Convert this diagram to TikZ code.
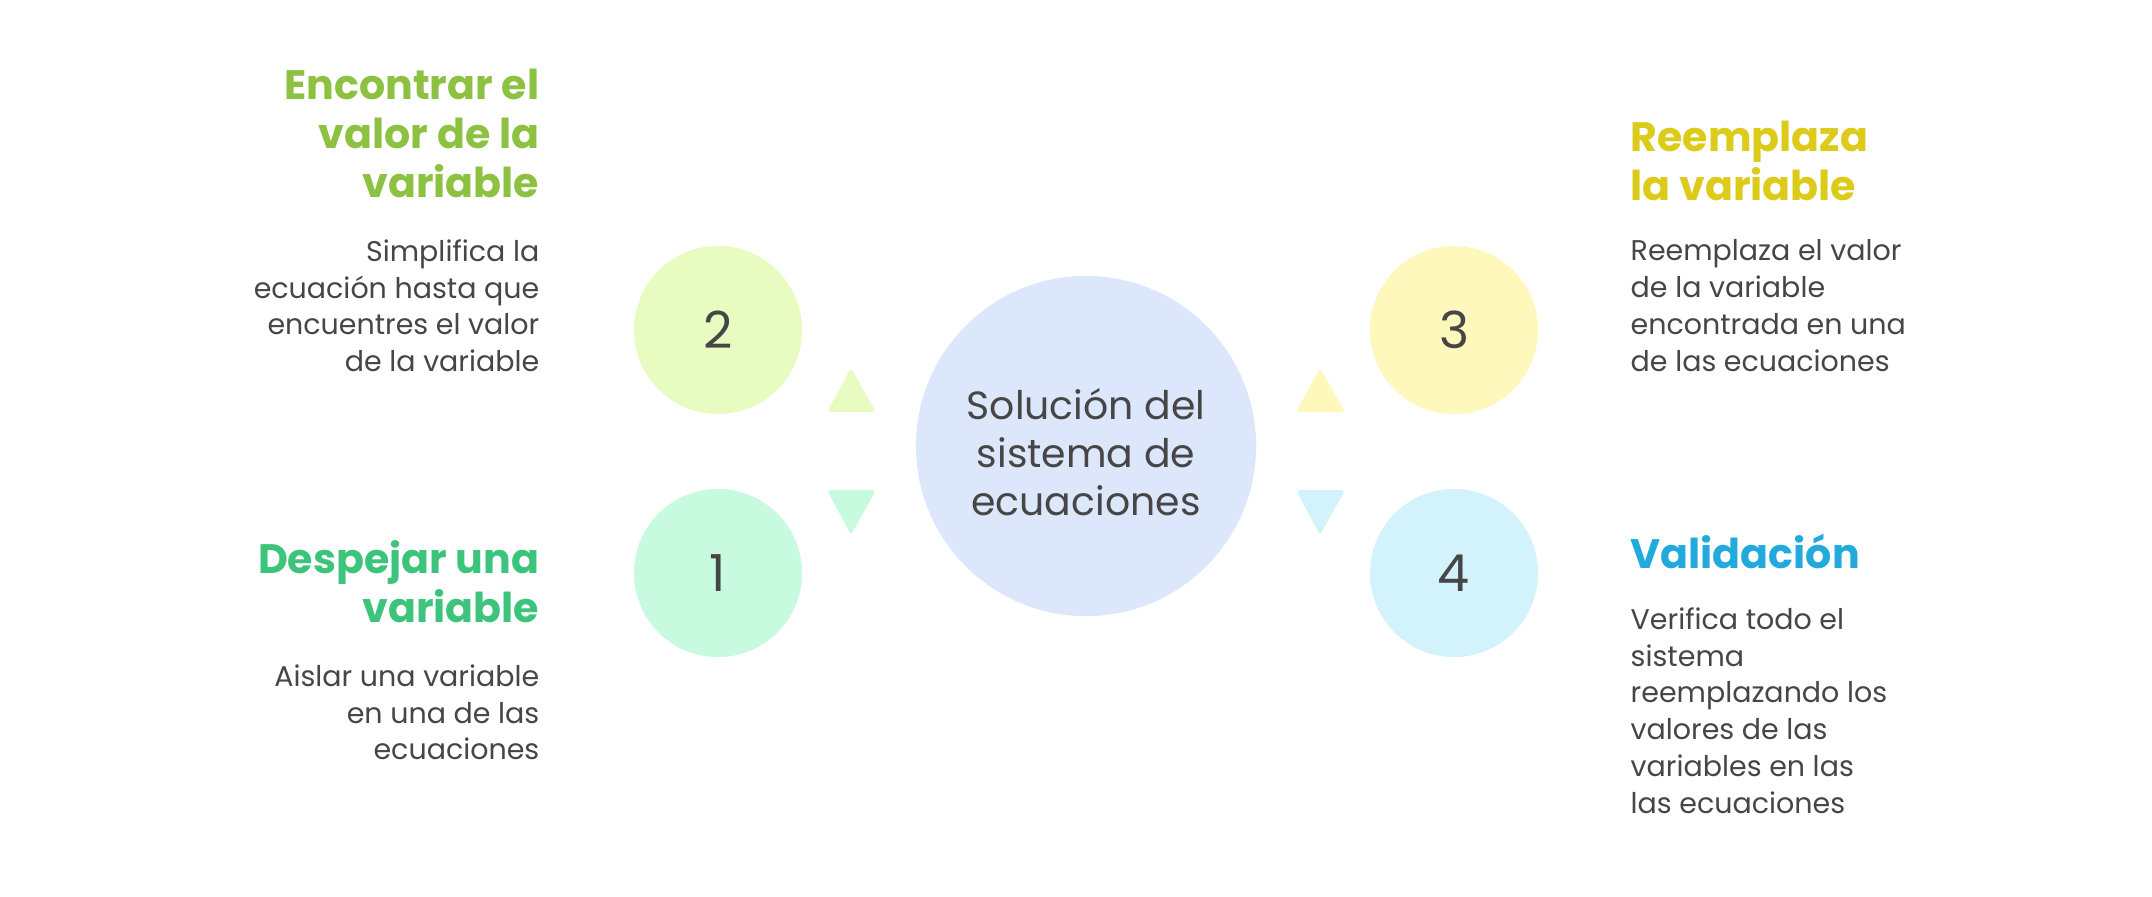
\documentclass[tikz,border=0pt]{standalone}
\usepackage{fontspec}
\setmainfont{Poppins}
\usepackage{tikz}
\usepackage{xcolor}
\definecolor{ink}{RGB}{70,70,70}
\definecolor{hubfill}{RGB}{221,231,252}
\definecolor{stepafill}{RGB}{200,250,224}
\definecolor{stepbfill}{RGB}{232,251,192}
\definecolor{stepcfill}{RGB}{255,248,188}
\definecolor{stepdfill}{RGB}{210,242,252}
\definecolor{stepaink}{RGB}{61,196,124}
\definecolor{stepbink}{RGB}{141,193,66}
\definecolor{stepcink}{RGB}{221,203,26}
\definecolor{stepdink}{RGB}{34,170,221}
\usetikzlibrary{calc,shapes,positioning}

\begin{document}
\begin{tikzpicture}[x=0.01cm,y=-0.01cm,
    every node/.style={inner sep=0pt,text=ink},
    disc/.style={circle,minimum size=1.68cm,font=\fontsize{14.5}{14.5}\selectfont},
    hubdisc/.style={circle,fill=hubfill,minimum size=3.4cm},
    headl/.style={anchor=north east,align=right,font=\fontsize{11.7}{14}\selectfont\bfseries},
    headr/.style={anchor=north west,align=left,font=\fontsize{11.7}{14}\selectfont\bfseries},
    bodyl/.style={anchor=north east,align=right,font=\fontsize{8.1}{10.45}\selectfont},
    bodyr/.style={anchor=north west,align=left,font=\fontsize{8.1}{10.45}\selectfont}]
    \fill[white] (0,0) rectangle (2152,896);
    \node[hubdisc] (hub) at (1086,446) {};
    \node[anchor=north,align=center,font=\fontsize{11.2}{13.65}\selectfont] (hubtxt) at (1086,388) {Solución del\\sistema de\\ecuaciones};
    \node[disc,fill=stepafill] (n1) at (718,573) {1};
    \node[disc,fill=stepbfill] (n2) at (718,330) {2};
    \node[disc,fill=stepcfill] (n3) at (1454,330) {3};
    \node[disc,fill=stepdfill] (n4) at (1454,573) {4};
    \fill[stepbfill,rounded corners=1] (827,412) -- (851,368) -- (876,412) -- cycle;
    \fill[stepafill,rounded corners=1] (827,490) -- (851,535) -- (876,490) -- cycle;
    \fill[stepcfill,rounded corners=1] (1296,412) -- (1320,368) -- (1345,412) -- cycle;
    \fill[stepdfill,rounded corners=1] (1296,490) -- (1320,535) -- (1345,490) -- cycle;
    \node[headl,text=stepbink] (h2) at (540,68) {Encontrar el\\valor de la\\variable};
    \node[bodyl] (b2) at (540,239) {Simplifica la\\ecuación hasta que\\encuentres el valor\\de la variable};
    \node[headl,text=stepaink] (h1) at (540,540) {Despejar una\\variable};
    \node[bodyl] (b1) at (540,664) {Aislar una variable\\en una de las\\ecuaciones};
    \node[headr,text=stepcink] (h3) at (1630,120) {Reemplaza\\la variable};
    \node[bodyr] (b3) at (1630,239) {Reemplaza el valor\\de la variable\\encontrada en una\\de las ecuaciones};
    \node[headr,text=stepdink] (h4) at (1630,533) {Validación};
    \node[bodyr] (b4) at (1630,607) {Verifica todo el\\sistema\\reemplazando los\\valores de las\\variables en las\\las ecuaciones};
\end{tikzpicture}
\end{document}
